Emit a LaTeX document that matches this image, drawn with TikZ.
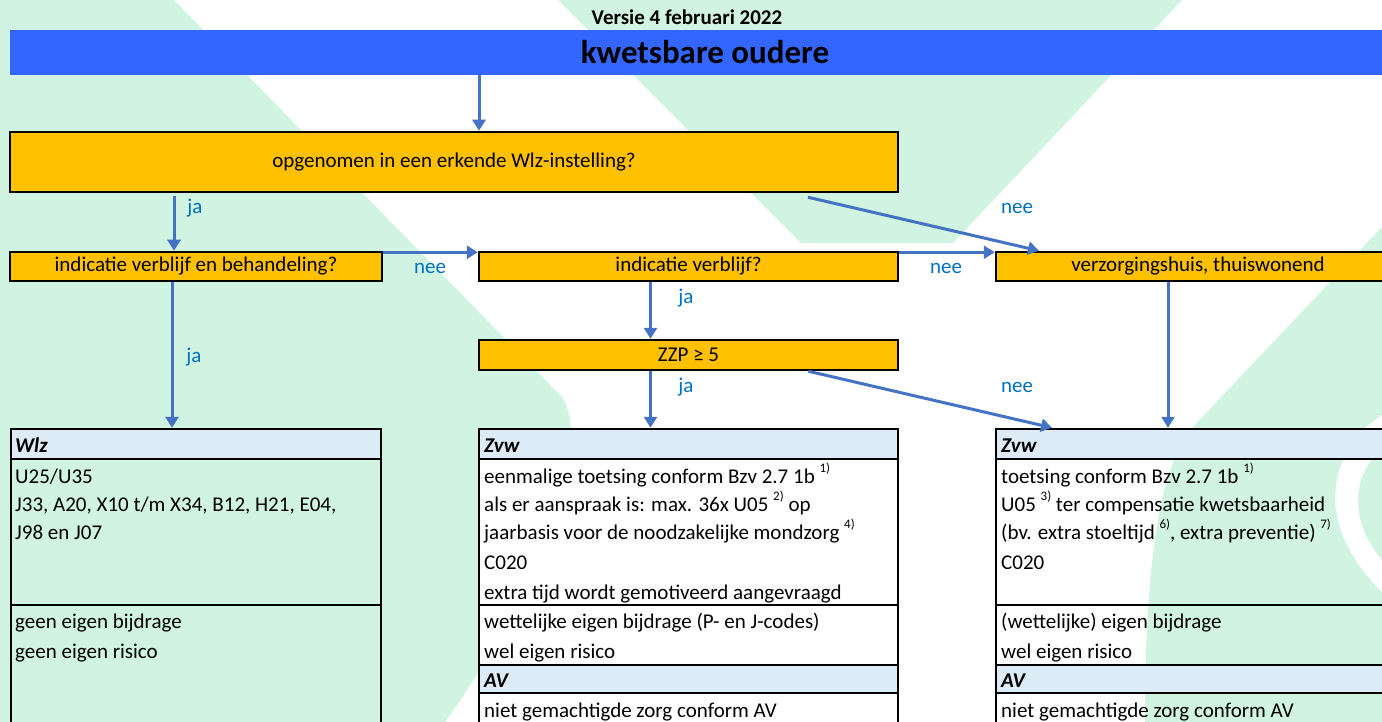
\documentclass[tikz,border=0pt]{standalone}
\usepackage{fontspec}
\setmainfont{Carlito}
\usetikzlibrary{arrows.meta}
\definecolor{wm}{RGB}{209,243,225}
\definecolor{barblue}{RGB}{51,102,255}
\definecolor{orng}{RGB}{255,192,0}
\definecolor{hdrblue}{RGB}{221,235,247}
\definecolor{arrblue}{RGB}{68,114,196}
\definecolor{lblblue}{RGB}{0,112,192}
\newcommand\fnote[1]{\raisebox{0.5em}{\fontsize{13}{13}\selectfont #1}}
\begin{document}
\begin{tikzpicture}[x=1pt,y=-1pt,
 obox/.style={draw=black, line width=2.5pt, fill=orng, inner sep=0pt, font=\fontsize{21}{25}\selectfont},
 hdrbox/.style={draw=black, line width=2.5pt, fill=hdrblue, inner sep=0pt, minimum height=30pt},
 cell/.style={draw=black, line width=2.5pt},
 txt/.style={anchor=base west, inner sep=0pt, font=\fontsize{21}{25}\selectfont},
 htxt/.style={anchor=base west, inner sep=0pt, font=\fontsize{21}{25}\selectfont\bfseries\itshape},
 lbl/.style={anchor=base, inner sep=0pt, text=lblblue, font=\fontsize{21}{25}\selectfont},
 arr/.style={draw=arrblue, line width=3pt, -{Triangle[length=11pt,width=13pt]}},
]
\useasboundingbox (0,0) rectangle (1382,722);
\begin{scope}
\clip (0,0) rectangle (1382,722);
% watermark
\fill[wm] (0,0) -- (174,0) -- (560,395) .. controls (600,440) and (520,620) .. (445,722) -- (0,722) -- cycle;
\fill[wm] (558,0) -- (1182,0) -- (953,243) -- (801,243) -- cycle;
\fill[wm] (1382,227) -- (1190,430) .. controls (1160,470) and (1145,560) .. (1145,722) -- (1382,722) -- cycle;
\fill[white] (1382,415) .. controls (1330,450) and (1310,520) .. (1382,592) -- (1382,560) .. controls (1348,520) and (1352,475) .. (1382,448) -- cycle;

% header
\node[inner sep=0pt, font=\fontsize{21}{24}\selectfont\bfseries] (versie) at (687,17) {Versie 4 februari 2022};
\node[fill=barblue, minimum width=1390pt, minimum height=45pt, inner sep=0pt, font=\fontsize{33}{36}\selectfont\bfseries] (bar) at (705,52.5) {kwetsbare oudere};

% decision boxes
\node[obox, minimum width=888pt, minimum height=60pt] (box1) at (454,162) {opgenomen in een erkende Wlz-instelling?};
\node[obox, minimum width=372pt, minimum height=29pt] (ivb) at (196,266.5) {indicatie verblijf en behandeling?};
\node[obox, minimum width=419pt, minimum height=29pt] (iv) at (688.5,266.5) {indicatie verblijf?};
\node[obox, minimum width=404pt, minimum height=29pt] (vzh) at (1198,266.5) {verzorgingshuis, thuiswonend};
\node[obox, minimum width=419pt, minimum height=30pt] (zzp) at (688.5,355) {ZZP ≥ 5};

% tables
\node[hdrbox, minimum width=370pt] (wlzh) at (196,444) {};
\node[hdrbox, minimum width=419pt] (zvwh1) at (688.5,444) {};
\node[hdrbox, minimum width=404pt] (zvwh2) at (1198,444) {};

\draw[cell] (11,459) rectangle (381,605);
\draw[cell] (11,605) rectangle (381,760);

\draw[cell, fill=white] (479,459) rectangle (898,605);
\draw[cell, fill=white] (479,605) rectangle (898,665);
\node[hdrbox, minimum width=419pt, minimum height=28pt] (av1) at (688.5,679) {};
\draw[cell, fill=white] (479,693) rectangle (898,760);

\draw[cell] (996,459) rectangle (1400,605);
\draw[cell] (996,605) rectangle (1400,665);
\node[hdrbox, minimum width=404pt, minimum height=28pt] (av2) at (1198,679) {};
\draw[cell] (996,693) rectangle (1400,760);

% table texts
\node[htxt] (a0) at (15,452) {Wlz};
\node[txt] (a1) at (15,483) {U25/U35};
\node[txt] (a2) at (15,511) {J33, A20, X10 t/m X34, B12, H21, E04,};
\node[txt] (a3) at (15,539) {J98 en J07};
\node[txt] (a4) at (15,628) {geen eigen bijdrage};
\node[txt] (a5) at (15,658) {geen eigen risico};

\node[htxt] (b0) at (484,452) {Zvw};
\node[txt] (b1) at (484,483) {eenmalige toetsing conform Bzv 2.7 1b \fnote{1)}};
\node[txt] (b2) at (484,511) {als er aanspraak is: max. 36x U05 \fnote{2)} op};
\node[txt] (b3) at (484,539) {jaarbasis voor de noodzakelijke mondzorg \fnote{4)}};
\node[txt] (b4) at (484,569) {C020};
\node[txt] (b5) at (484,599) {extra tijd wordt gemotiveerd aangevraagd};
\node[txt] (b6) at (484,628) {wettelijke eigen bijdrage (P- en J-codes)};
\node[txt] (b7) at (484,658) {wel eigen risico};
\node[htxt] (b8) at (484,687) {AV};
\node[txt] (b9) at (484,717) {niet gemachtigde zorg conform AV};

\node[htxt] (c0) at (1001,452) {Zvw};
\node[txt] (c1) at (1001,483) {toetsing conform Bzv 2.7 1b \fnote{1)}};
\node[txt] (c2) at (1001,511) {U05 \fnote{3)} ter compensatie kwetsbaarheid};
\node[txt] (c3) at (1001,539) {(bv. extra stoeltijd \fnote{6)}, extra preventie) \fnote{7)}};
\node[txt] (c4) at (1001,569) {C020};
\node[txt] (c6) at (1001,628) {(wettelijke) eigen bijdrage};
\node[txt] (c7) at (1001,658) {wel eigen risico};
\node[htxt] (c8) at (1001,687) {AV};
\node[txt] (c9) at (1001,717) {niet gemachtigde zorg conform AV};

% connectors
\draw[arr] ([xshift=-226pt]bar.south) -- ([xshift=25pt]box1.north);
\draw[arr] ([xshift=-280pt,yshift=-3pt]box1.south) -- ([xshift=-22pt]ivb.north);
\draw[arr] ([xshift=354pt,yshift=-4pt]box1.south) -- ([xshift=-159pt]vzh.north);
\draw[arr] ([yshift=-1.5pt]ivb.north east) -- ([yshift=-1.5pt]iv.north west);
\draw[arr] ([yshift=-1.5pt]iv.north east) -- ([yshift=-1.5pt]vzh.north west);
\draw[arr] ([xshift=-38pt]iv.south) -- ([xshift=-38pt]zzp.north);
\draw[arr] ([xshift=-24pt]ivb.south) -- ([xshift=-24pt]wlzh.north);
\draw[arr] ([xshift=-38pt]zzp.south) -- ([xshift=-38pt]zvwh1.north);
\draw[arr] ([xshift=120pt]zzp.south) -- ([xshift=-146pt]zvwh2.north);
\draw[arr] ([xshift=-30pt]vzh.south) -- ([xshift=-30pt]zvwh2.north);

% labels
\node[lbl] (l1) at (195,214) {ja};
\node[lbl] (l2) at (1017,214) {nee};
\node[lbl] (l3) at (430,273) {nee};
\node[lbl] (l4) at (946,273) {nee};
\node[lbl] (l5) at (686,303) {ja};
\node[lbl] (l6) at (194,362) {ja};
\node[lbl] (l7) at (686,392) {ja};
\node[lbl] (l8) at (1017,392) {nee};
\end{scope}
\end{tikzpicture}
\end{document}
